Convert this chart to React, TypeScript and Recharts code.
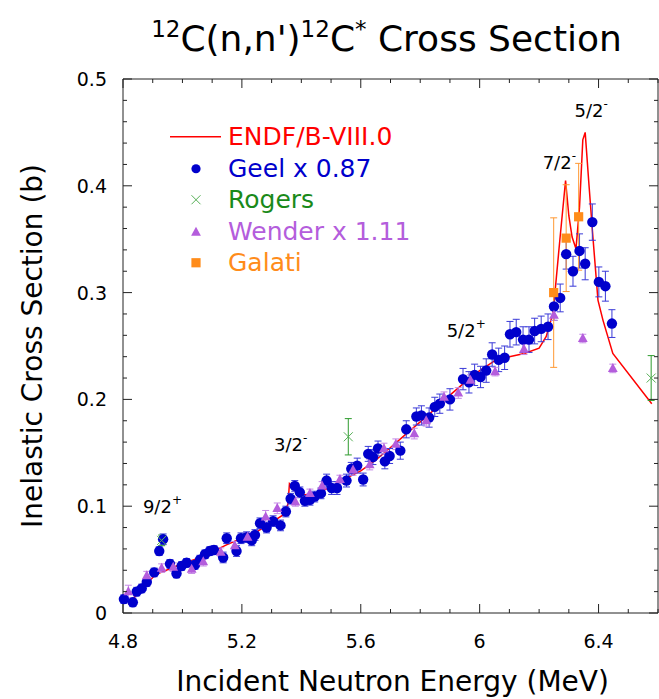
import React from "react";
import {
  ComposedChart,
  Line,
  Scatter,
  XAxis,
  YAxis,
  ErrorBar,
  Legend,
  ReferenceDot,
} from "recharts";

// the page is exactly the chart: drop the default body margin
if (typeof document !== "undefined") document.body.style.margin = "0";

// ENDF/B-VIII.0 evaluation (red curve)
const endfE = [4.818, 4.86, 4.91, 4.98, 5.06, 5.15, 5.25, 5.34, 5.355, 5.36, 5.39, 5.45, 5.5, 5.55, 5.6, 5.65, 5.7, 5.75, 5.8, 5.85, 5.9, 5.95, 6.0, 6.05, 6.1, 6.15, 6.2, 6.224, 6.247, 6.27, 6.289, 6.3, 6.311, 6.324, 6.336, 6.347, 6.355, 6.368, 6.381, 6.398, 6.415, 6.448, 6.579];
const endfXs = [0.008, 0.022, 0.036, 0.044, 0.052, 0.064, 0.076, 0.092, 0.102, 0.121, 0.11, 0.112, 0.118, 0.126, 0.133, 0.143, 0.155, 0.167, 0.179, 0.191, 0.204, 0.216, 0.227, 0.236, 0.24, 0.243, 0.248, 0.259, 0.281, 0.35, 0.405, 0.372, 0.352, 0.341, 0.38, 0.443, 0.45, 0.4, 0.352, 0.293, 0.274, 0.243, 0.196];

// Geel x 0.87
const geelE = [4.803, 4.833, 4.846, 4.863, 4.88, 4.905, 4.922, 4.935, 4.958, 4.98, 4.997, 5.014, 5.042, 5.059, 5.076, 5.092, 5.106, 5.137, 5.149, 5.182, 5.197, 5.216, 5.233, 5.244, 5.261, 5.283, 5.305, 5.33, 5.348, 5.364, 5.378, 5.395, 5.412, 5.429, 5.445, 5.466, 5.485, 5.502, 5.52, 5.552, 5.568, 5.588, 5.608, 5.625, 5.641, 5.658, 5.681, 5.697, 5.733, 5.753, 5.787, 5.804, 5.83, 5.849, 5.866, 5.9, 5.944, 5.964, 5.983, 6.003, 6.022, 6.042, 6.064, 6.084, 6.102, 6.123, 6.146, 6.166, 6.185, 6.207, 6.23, 6.25, 6.271, 6.291, 6.314, 6.336, 6.355, 6.379, 6.401, 6.423, 6.445];
const geelXs = [0.013, 0.01, 0.02, 0.023, 0.029, 0.038, 0.058, 0.069, 0.046, 0.037, 0.044, 0.047, 0.045, 0.05, 0.055, 0.058, 0.059, 0.052, 0.07, 0.058, 0.07, 0.071, 0.068, 0.073, 0.084, 0.08, 0.086, 0.082, 0.095, 0.107, 0.119, 0.113, 0.105, 0.106, 0.109, 0.112, 0.124, 0.117, 0.117, 0.124, 0.135, 0.138, 0.125, 0.149, 0.146, 0.154, 0.142, 0.147, 0.152, 0.172, 0.184, 0.185, 0.183, 0.193, 0.196, 0.2, 0.219, 0.216, 0.223, 0.221, 0.227, 0.242, 0.237, 0.239, 0.261, 0.263, 0.256, 0.256, 0.264, 0.266, 0.268, 0.287, 0.295, 0.336, 0.32, 0.339, 0.327, 0.366, 0.31, 0.306, 0.271];
const geelErr = [0.004, 0.004, 0.004, 0.004, 0.004, 0.004, 0.004, 0.005, 0.004, 0.004, 0.004, 0.004, 0.004, 0.004, 0.004, 0.004, 0.004, 0.005, 0.005, 0.005, 0.005, 0.005, 0.005, 0.005, 0.005, 0.005, 0.005, 0.005, 0.005, 0.005, 0.005, 0.005, 0.005, 0.005, 0.005, 0.005, 0.006, 0.006, 0.006, 0.006, 0.006, 0.007, 0.006, 0.007, 0.007, 0.007, 0.007, 0.007, 0.008, 0.008, 0.008, 0.009, 0.009, 0.009, 0.009, 0.01, 0.01, 0.01, 0.01, 0.01, 0.011, 0.011, 0.011, 0.011, 0.012, 0.012, 0.012, 0.012, 0.012, 0.012, 0.012, 0.013, 0.013, 0.014, 0.014, 0.016, 0.015, 0.017, 0.014, 0.014, 0.013];

// Wender x 1.11
const wenderE = [4.818, 4.88, 4.93, 4.969, 5.031, 5.07, 5.129, 5.176, 5.219, 5.28, 5.319, 5.38, 5.429, 5.47, 5.53, 5.574, 5.63, 5.678, 5.718, 5.78, 5.82, 5.88, 5.928, 5.969, 6.052, 6.149, 6.25, 6.347, 6.448];
const wenderXs = [0.02, 0.035, 0.042, 0.043, 0.041, 0.048, 0.057, 0.063, 0.071, 0.09, 0.098, 0.104, 0.112, 0.119, 0.125, 0.134, 0.139, 0.154, 0.158, 0.168, 0.18, 0.202, 0.206, 0.218, 0.226, 0.247, 0.279, 0.257, 0.229];
const wenderErr = [0.006, 0.004, 0.004, 0.004, 0.004, 0.004, 0.004, 0.004, 0.004, 0.006, 0.005, 0.004, 0.004, 0.004, 0.004, 0.005, 0.005, 0.005, 0.005, 0.005, 0.005, 0.005, 0.005, 0.005, 0.004, 0.005, 0.005, 0.004, 0.004];

// Rogers
const rogersE = [4.93, 5.558, 6.577];
const rogersXs = [0.068, 0.165, 0.22];
const rogersErr = [0.005, 0.017, 0.021];

// Galati
const galatiE = [6.249, 6.291, 6.333];
const galatiXs = [0.3, 0.351, 0.371];
const galatiErr = [0.07, 0.05, 0.05];

// axis ticks
const xTicks = [4.8, 4.9, 5.0, 5.1, 5.2, 5.3, 5.4, 5.5, 5.6, 5.7, 5.8, 5.9, 6.0, 6.1, 6.2, 6.3, 6.4, 6.5, 6.6];
const xMajor = [4.8, 5.2, 5.6, 6.0, 6.4];
const xMajorLabels = ["4.8", "5.2", "5.6", "6", "6.4"];
const yTicks = [0, 0.02, 0.04, 0.06, 0.08, 0.1, 0.12, 0.14, 0.16, 0.18, 0.2, 0.22, 0.24, 0.26, 0.28, 0.3, 0.32, 0.34, 0.36, 0.38, 0.4, 0.42, 0.44, 0.46, 0.48, 0.5];
const yMajor = [0, 0.1, 0.2, 0.3, 0.4, 0.5];
const yMajorLabels = ["0", "0.1", "0.2", "0.3", "0.4", "0.5"];

// level labels (text anchor in data units)
const levelNames = ["9/2", "3/2", "5/2", "7/2", "5/2"];
const levelParity = ["+", "-", "+", "-", "-"];
const levelE = [4.867, 5.308, 5.889, 6.212, 6.319];
const levelXs = [0.094, 0.152, 0.258, 0.416, 0.464];

const legendNames = ["ENDF/B-VIII.0", "Geel x 0.87", "Rogers", "Wender x 1.11", "Galati"];

const X_MIN = 4.8;
const X_MAX = 6.6;
const Y_MIN = 0;
const Y_MAX = 0.5;

const FONT = "'DejaVu Sans', Verdana, sans-serif";
const W = 659;
const H = 699;
const PLOT_LEFT = 123;
const PLOT_TOP = 79;
const PLOT_RIGHT = 658;
const PLOT_BOTTOM = 613;
const PW = PLOT_RIGHT - PLOT_LEFT;
const PH = PLOT_BOTTOM - PLOT_TOP;

const RED = "#ff0000";
const BLUE = "#0000cc";
const GREEN = "#1a8a1a";
const VIOLET = "#b45ddc";
const ORANGE = "#ff8c1a";
const FRAME = "#222";

const zip = (e: number[], v: number[], err?: number[]) =>
  e.map((x, i) => ({ x, y: v[i], err: err ? err[i] : 0 }));

const endf = zip(endfE, endfXs);
const geel = zip(geelE, geelXs, geelErr);
const wender = zip(wenderE, wenderXs, wenderErr);
const rogers = zip(rogersE, rogersXs, rogersErr);
const galati = zip(galatiE, galatiXs, galatiErr);

const idx = (v: number, list: number[]) => list.findIndex((m) => Math.abs(m - v) < 1e-6);
const tickPx = (major: boolean) => (major ? 9 : 4);

// bottom axis tick, plus its mirror on the top edge; the last one closes the box on the right
function BottomTick(props: any) {
  const { x, y, payload } = props;
  const i = idx(payload.value, xMajor);
  const len = tickPx(i >= 0);
  return (
    <g>
      <line x1={x} y1={y} x2={x} y2={y - len} stroke={FRAME} />
      <line x1={x} y1={y - PH} x2={x} y2={y - PH + len} stroke={FRAME} />
      {Math.abs(payload.value - X_MAX) < 1e-6 && <line x1={x} y1={y} x2={x} y2={y - PH} stroke={FRAME} />}
      {i >= 0 && (
        <text x={x} y={y + 35} textAnchor="middle" fontSize={19} fontFamily={FONT} fill="#000">
          {xMajorLabels[i]}
        </text>
      )}
    </g>
  );
}

// left axis tick, plus its mirror on the right edge; the top one closes the box on top
function LeftTick(props: any) {
  const { x, y, payload } = props;
  const i = idx(payload.value, yMajor);
  const len = tickPx(i >= 0);
  return (
    <g>
      <line x1={x} y1={y} x2={x + len} y2={y} stroke={FRAME} />
      <line x1={x + PW} y1={y} x2={x + PW - len} y2={y} stroke={FRAME} />
      {Math.abs(payload.value - Y_MAX) < 1e-6 && <line x1={x} y1={y} x2={x + PW} y2={y} stroke={FRAME} />}
      {i >= 0 && (
        <text x={x - 16} y={y + 7} textAnchor="end" fontSize={19} fontFamily={FONT} fill="#000">
          {yMajorLabels[i]}
        </text>
      )}
    </g>
  );
}

function Title() {
  return (
    <svg
      width={W}
      height={70}
      style={{ position: "absolute", left: 0, top: 0, pointerEvents: "none" }}
    >
      <text x={(PLOT_LEFT + PLOT_RIGHT) / 2 - 4} y={51} textAnchor="middle" fontSize={36} fontFamily={FONT} fill="#000">
        <tspan fontSize={23} dy={-14}>12</tspan>
        <tspan dy={14}>C(n,n')</tspan>
        <tspan fontSize={23} dy={-14}>12</tspan>
        <tspan dy={14}>C</tspan>
        <tspan fontSize={23} dy={-14}>*</tspan>
        <tspan dy={14}>{" Cross Section"}</tspan>
      </text>
    </svg>
  );
}

function XLabel() {
  return (
    <text x={(PLOT_LEFT + PLOT_RIGHT) / 2 + 2} y={H - 8} textAnchor="middle" fontSize={28} fontFamily={FONT} fill="#000">
      Incident Neutron Energy (MeV)
    </text>
  );
}

function YLabel() {
  const cy = (PLOT_TOP + PLOT_BOTTOM) / 2;
  return (
    <text x={42} y={cy} transform={`rotate(-90 42 ${cy})`} textAnchor="middle" fontSize={28} fontFamily={FONT} fill="#000">
      Inelastic Cross Section (b)
    </text>
  );
}

const GeelDot = (p: any) => <circle cx={p.cx} cy={p.cy} r={5.2} fill={BLUE} />;
const WenderDot = (p: any) => (
  <polygon
    points={`${p.cx},${p.cy - 5.4} ${p.cx - 4.9},${p.cy + 3.6} ${p.cx + 4.9},${p.cy + 3.6}`}
    fill={VIOLET}
  />
);
const RogersDot = (p: any) => (
  <g stroke="#58b058" strokeWidth={1}>
    <line x1={p.cx - 4.5} y1={p.cy - 4.5} x2={p.cx + 4.5} y2={p.cy + 4.5} />
    <line x1={p.cx - 4.5} y1={p.cy + 4.5} x2={p.cx + 4.5} y2={p.cy - 4.5} />
  </g>
);
const GalatiDot = (p: any) => <rect x={p.cx - 4.6} y={p.cy - 4.6} width={9.2} height={9.2} fill={ORANGE} />;

const levelLabel = (i: number) => (p: any) => (
  <text x={p.cx} y={p.cy} fontSize={18} fontFamily={FONT} fill="#000">
    {levelNames[i]}
    <tspan fontSize={12} dy={-9}>{levelParity[i]}</tspan>
  </text>
);

function LegendBox() {
  const colors = [RED, BLUE, GREEN, VIOLET, ORANGE];
  const marker = (i: number) => {
    const c = 26;
    const m = 15.75;
    if (i === 0) return <line x1={0} y1={m} x2={51} y2={m} stroke={RED} strokeWidth={1.5} />;
    if (i === 1) return <circle cx={c} cy={m} r={4.6} fill={BLUE} />;
    if (i === 2) return <RogersDot cx={c} cy={m} />;
    if (i === 3) return <WenderDot cx={c} cy={m + 0.5} />;
    return <GalatiDot cx={c} cy={m} />;
  };
  return (
    <div style={{ fontFamily: FONT, fontSize: 25 }}>
      {legendNames.map((name, i) => (
        <div key={name} style={{ display: "flex", alignItems: "center", height: 31.5 }}>
          <svg width={58} height={31.5} style={{ display: "block" }}>
            {marker(i)}
          </svg>
          <span style={{ color: colors[i], lineHeight: "31.5px", whiteSpace: "nowrap" }}>{name}</span>
        </div>
      ))}
    </div>
  );
}

export default function App() {
  return (
    <div style={{ width: W, height: H, position: "relative", background: "#fff" }}>
      <ComposedChart
        width={W}
        height={H}
        margin={{ top: PLOT_TOP, right: W - PLOT_RIGHT, bottom: 0, left: 0 }}
        style={{ fontFamily: FONT }}
      >
        <XAxis
          dataKey="x"
          type="number"
          domain={[X_MIN, X_MAX]}
          ticks={xTicks}
          interval={0}
          tick={<BottomTick />}
          tickLine={false}
          tickSize={0}
          tickMargin={0}
          height={H - PLOT_BOTTOM}
          axisLine={{ stroke: FRAME }}
          label={{ content: XLabel }}
        />
        <YAxis
          dataKey="y"
          type="number"
          domain={[Y_MIN, Y_MAX]}
          ticks={yTicks}
          interval={0}
          tick={<LeftTick />}
          tickLine={false}
          tickSize={0}
          tickMargin={0}
          width={PLOT_LEFT}
          axisLine={{ stroke: FRAME }}
          label={{ content: YLabel }}
        />
        <Line
          data={endf}
          dataKey="y"
          type="linear"
          stroke={RED}
          strokeWidth={1.5}
          dot={false}
          activeDot={false}
          isAnimationActive={false}
        />
        <Scatter data={geel} dataKey="y" shape={GeelDot} isAnimationActive={false}>
          <ErrorBar dataKey="err" direction="y" width={3.5} stroke="#3a3ad8" strokeWidth={1} isAnimationActive={false} />
        </Scatter>
        <Scatter data={wender} dataKey="y" shape={WenderDot} isAnimationActive={false}>
          <ErrorBar dataKey="err" direction="y" width={3.5} stroke="#c58ae6" strokeWidth={1} isAnimationActive={false} />
        </Scatter>
        <Scatter data={rogers} dataKey="y" shape={RogersDot} isAnimationActive={false}>
          <ErrorBar dataKey="err" direction="y" width={3.5} stroke="#2e9b2e" strokeWidth={1} isAnimationActive={false} />
        </Scatter>
        <Scatter data={galati} dataKey="y" shape={GalatiDot} isAnimationActive={false}>
          <ErrorBar dataKey="err" direction="y" width={3.5} stroke="#ff9933" strokeWidth={1} isAnimationActive={false} />
        </Scatter>
        {levelNames.map((n, i) => (
          <ReferenceDot key={i} x={levelE[i]} y={levelXs[i]} r={0} shape={levelLabel(i)} />
        ))}
        <Legend
          layout="vertical"
          align="center"
          verticalAlign="middle"
          content={() => <LegendBox />}
          wrapperStyle={{ top: 121, left: 170, width: 320, height: 160 }}
        />
      </ComposedChart>
      <Title />
    </div>
  );
}
